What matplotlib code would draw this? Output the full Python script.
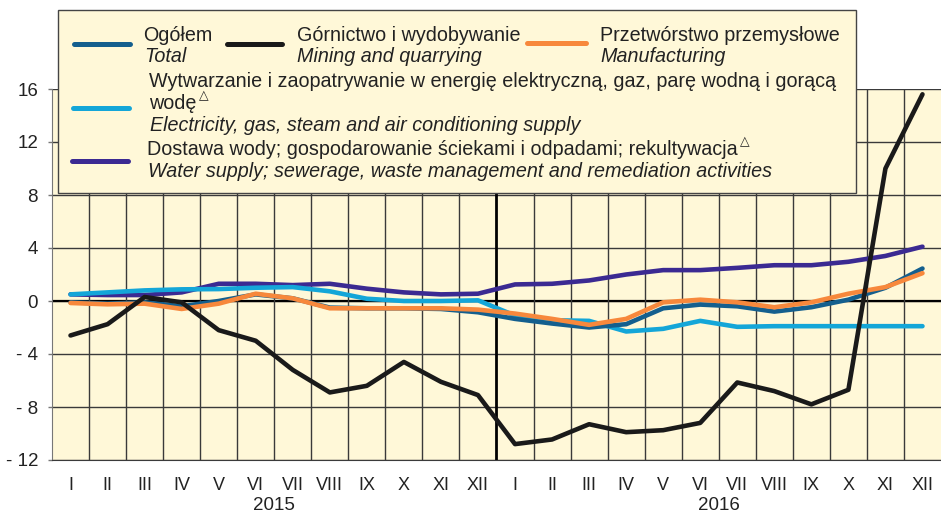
import matplotlib
matplotlib.use("Agg")
import matplotlib.pyplot as plt
from matplotlib.patches import Rectangle
from matplotlib.lines import Line2D
from matplotlib.text import Annotation
from matplotlib.transforms import blended_transform_factory
import numpy as np

plt.rcParams['font.family'] = ['Liberation Sans', 'DejaVu Sans']

# Monthly labels for 2015 and 2016
months = ["I", "II", "III", "IV", "V", "VI", "VII", "VIII", "IX", "X", "XI", "XII"]
month_labels = months + months
years = ["2015", "2016"]

# Series values (%)
total = [-0.1, -0.2, -0.1, -0.4, 0.0, 0.5, 0.2, -0.5, -0.55, -0.55, -0.6, -0.85,
         -1.35, -1.7, -2.0, -1.75, -0.55, -0.27, -0.4, -0.8, -0.47, 0.1, 1.0, 2.45]
mining = [-2.6, -1.75, 0.3, -0.1, -2.2, -3.0, -5.2, -6.9, -6.4, -4.6, -6.1, -7.1,
          -10.8, -10.45, -9.3, -9.9, -9.75, -9.2, -6.15, -6.8, -7.8, -6.7, 10.0, 15.6]
manufacturing = [-0.15, -0.25, -0.2, -0.6, -0.2, 0.55, 0.2, -0.55, -0.55, -0.55, -0.55, -0.65,
                 -0.95, -1.35, -1.8, -1.35, -0.1, 0.1, -0.1, -0.47, -0.1, 0.55, 1.05, 2.1]
electricity = [0.5, 0.65, 0.8, 0.88, 0.9, 1.0, 1.05, 0.73, 0.17, 0.0, 0.0, 0.05,
               -1.1, -1.45, -1.5, -2.3, -2.1, -1.5, -1.95, -1.9, -1.9, -1.9, -1.9, -1.9]
water = [0.5, 0.45, 0.45, 0.65, 1.3, 1.3, 1.2, 1.3, 0.93, 0.65, 0.5, 0.55,
         1.25, 1.3, 1.55, 2.0, 2.33, 2.33, 2.5, 2.7, 2.7, 2.96, 3.4, 4.1]

y_ticks = [16, 12, 8, 4, 0, -4, -8, -12]
y_tick_labels = ["16", "12", "8", "4", "0", "- 4", "- 8", "- 12"]

C_TOTAL = "#145f8e"
C_MINING = "#1a1a1a"
C_MANUF = "#f7883c"
C_ELEC = "#14a6d8"
C_WATER = "#3b2a92"
CREAM = "#fff8d8"
GRID = "#3a3a3a"
TXT = "#222222"

W, H = 941, 514
fig = plt.figure(figsize=(W / 100, H / 100), dpi=100)
fig.patch.set_facecolor("white")


def fx(x):
    return x / W


def fy(y):
    return 1 - y / H


ax = fig.add_axes([fx(52), fy(460), fx(941) - fx(52), fy(89) - fy(460)])
ax.set_facecolor(CREAM)

x = np.arange(len(month_labels))
ax.set_xlim(-0.5, len(month_labels) - 0.5)
ax.set_ylim(-12, 16)

# grid
for v in y_ticks:
    ax.axhline(v, color=GRID, lw=1.0, zorder=1)
ax.axhline(0, color="black", lw=1.6, zorder=1)
for k in range(len(month_labels) - 1):
    xv = k + 0.5
    if k == 11:
        ax.axvline(xv, color="black", lw=2.0, zorder=1)
    else:
        ax.axvline(xv, color=GRID, lw=1.0, zorder=1)

lw = 3.3
ax.plot(x, water, color=C_WATER, lw=lw, zorder=3, solid_capstyle="round")
ax.plot(x, electricity, color=C_ELEC, lw=lw, zorder=3, solid_capstyle="round")
ax.plot(x, total, color=C_TOTAL, lw=lw, zorder=3, solid_capstyle="round")
ax.plot(x, manufacturing, color=C_MANUF, lw=lw, zorder=3, solid_capstyle="round")
ax.plot(x, mining, color=C_MINING, lw=lw, zorder=3, solid_capstyle="round")

ax.set_yticks(y_ticks)
ax.set_yticklabels(y_tick_labels, fontsize=13.5, color=TXT)
ax.tick_params(axis="y", length=3, width=1, color="#777777", pad=7)
ax.set_xticks(x)
ax.set_xticklabels(month_labels, fontsize=13, color=TXT,
                   family=["Liberation Sans Narrow", "Liberation Sans"])
ax.tick_params(axis="x", length=0, pad=12)

for s in ["top", "right"]:
    ax.spines[s].set_visible(False)
ax.spines["left"].set_color("#777777")
ax.spines["bottom"].set_color(GRID)

year_tr = blended_transform_factory(ax.transData, fig.transFigure)
for i, yr in enumerate(years):
    ax.text(5.5 + 12 * i, fy(510), yr, transform=year_tr, ha="center",
            va="baseline", fontsize=13.5, color=TXT, clip_on=False)

# legend box
rect = Rectangle((fx(58), fy(193)), fx(856) - fx(58), fy(10) - fy(193),
                 transform=fig.transFigure, facecolor=CREAM, edgecolor="#444444",
                 lw=1.0, zorder=5)
fig.add_artist(rect)


def sample(x0, x1, y, color):
    fig.add_artist(Line2D([fx(x0), fx(x1)], [fy(y), fy(y)], transform=fig.transFigure,
                          color=color, lw=3.6, zorder=6, solid_capstyle="round"))


LFS = 14.2


def label(xp, yp, s, italic=False):
    return fig.text(fx(xp), fy(yp), s, fontsize=LFS, color=TXT, va="baseline",
                    style="italic" if italic else "normal", zorder=7)


sample(74, 130, 43.5, C_TOTAL)
label(143, 41, "Ogółem")
label(144, 62, "Total", True)

sample(227, 282, 43.5, C_MINING)
label(297, 41, "Górnictwo i wydobywanie")
label(297, 62, "Mining and quarrying", True)

sample(527, 586, 43, C_MANUF)
label(600, 41, "Przetwórstwo przemysłowe")
label(600, 62, "Manufacturing", True)

sample(73, 129, 108, C_ELEC)
label(149, 87, "Wytwarzanie i zaopatrywanie w energię elektryczną, gaz, parę wodną i gorącą")
t1 = label(149, 109, "wodę")
label(150, 131, "Electricity, gas, steam and air conditioning supply", True)

sample(72, 128, 160.5, C_WATER)
t2 = label(147, 155, "Dostawa wody; gospodarowanie ściekami i odpadami; rekultywacja")
label(148, 177, "Water supply; sewerage, waste management and remediation activities", True)

for t in (t1, t2):
    fig.add_artist(
        Annotation("△", xy=(1, 0.55), xycoords=t, xytext=(2, 0),
                   textcoords="offset points", fontsize=9,
                   color=TXT, family="DejaVu Sans",
                   va="bottom", ha="left", zorder=7))

fig.savefig("out.png", dpi=100)
